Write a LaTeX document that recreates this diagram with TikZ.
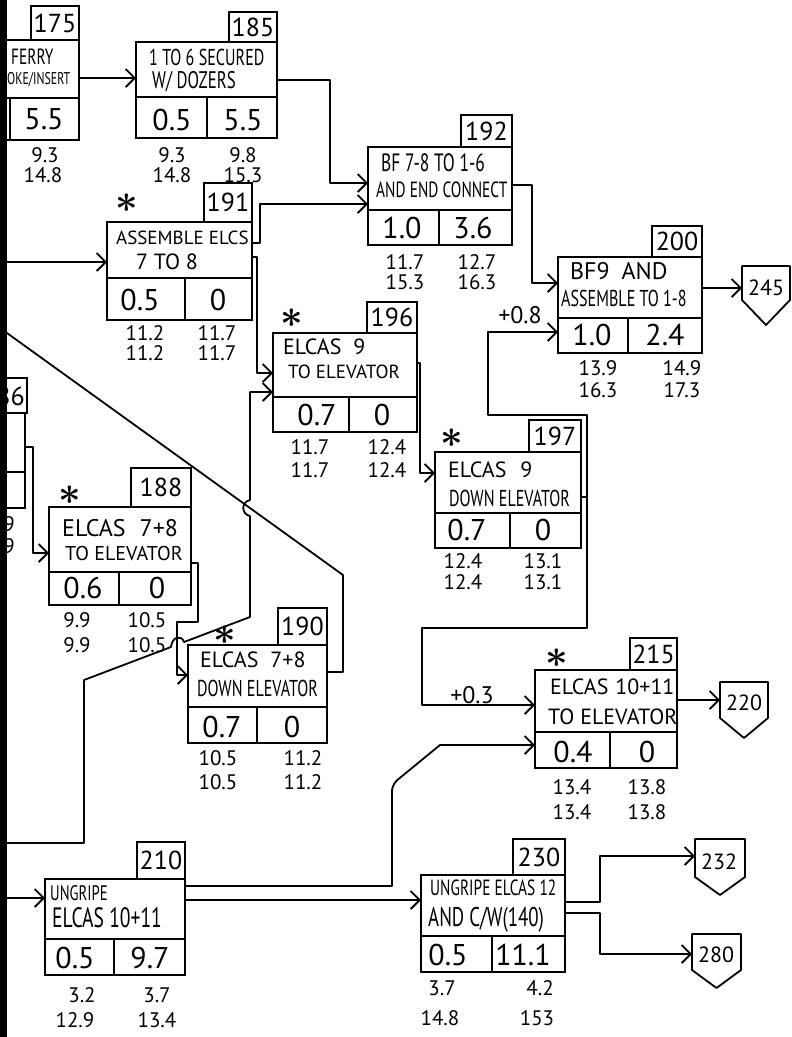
\documentclass[tikz,border=0pt]{standalone}
\usepackage{fontspec}
\usepackage{graphicx}
\setmainfont{PT Sans}
\newfontfamily\handt[FakeStretch=0.7]{PT Sans}
\newfontfamily\handn{PT Sans}
\usetikzlibrary{arrows.meta,fit,calc}
\tikzset{
 ln/.style={line width=1.8pt, line join=round, line cap=round},
 arr/.style={ln, -{Straight Barb[length=9pt,width=18pt,line width=1.8pt]}},
 boxm/.style={draw, line width=1.8pt, inner sep=0pt, outer sep=0pt},
 pent/.style={inner sep=0pt, outer sep=0pt},
 tagtxt/.style={inner sep=0pt, font=\handn\fontsize{26}{26}\selectfont},
 ptxt/.style={inner sep=0pt, font=\handn\fontsize{22}{22}\selectfont},
 tc/.style={anchor=west, inner sep=0pt, font=\handt\fontsize{#1}{#1}\selectfont},
 tn/.style={anchor=west, inner sep=0pt, font=\handn\fontsize{#1}{#1}\selectfont},
 val/.style={inner sep=0pt, font=\handn\fontsize{30}{30}\selectfont},
 tim/.style={inner sep=0pt, font=\handn\fontsize{21}{21}\selectfont},
 lag/.style={inner sep=0pt, font=\handn\fontsize{24}{24}\selectfont},
 starm/.style={inner sep=0pt, font=\fontsize{20}{20}\selectfont},
}
\newcommand\actbox[9]{%
  \node[boxm, fit={(#2,#3) (#4,#5)}] (#1) {};
  \draw[ln] (#1.west |- 0,#6) -- (#1.east |- 0,#6);
  \draw[ln] (#7,#6) -- (#7,#5);
  \node[boxm, fit={(#8,#9) (#4,#3)}] (#1t) {};
}
\newcommand\bigast{\scalebox{1.9}{$\boldsymbol{\ast}$}}
\usepackage{amsmath}
\begin{document}
\begin{tikzpicture}[x=1pt,y=-1pt]
\fill[white] (0,0) rectangle (792,1037);
\useasboundingbox (0,0) rectangle (792,1037);

% ---------- 175 (cut at left)
\actbox{b175}{-5}{40}{79}{140}{98}{10}{31}{6}
\node[tagtxt] (n175) at (b175t) {175};
\node[tc=22] (t175a) at (11,57) {FERRY};
\node[tc=17] (t175b) at (7,80) {OKE/INSERT};
\node[val] (v175b) at (44,119) {5.5};
\node[tim] (ef175) at (45,155) {9.3};
\node[tim] (lf175) at (43,175) {14.8};

% ---------- 185
\actbox{b185}{136}{42}{277}{138}{97}{207}{229}{12}
\node[tagtxt] (n185) at (b185t) {185};
\node[tc=23] (t185a) at (149,57) {1 TO 6 SECURED};
\node[tc=24] (t185b) at (152,82) {W/ DOZERS};
\node[val] (v185a) at (172,120) {0.5};
\node[val] (v185b) at (243,120) {5.5};
\node[tim] (es185) at (172,155) {9.3};
\node[tim] (ls185) at (172,175) {14.8};
\node[tim] (ef185) at (243,155) {9.8};
\node[tim] (lf185) at (243,175) {15.3};

% ---------- 192
\actbox{b192}{368}{147}{512}{245}{210}{439}{461}{115}
\node[tagtxt] (n192) at (b192t) {192};
\node[tc=25] (t192a) at (381,163) {BF 7-8 TO 1-6};
\node[tc=22] (t192b) at (376,190) {AND END CONNECT};
\node[val] (v192a) at (402,228) {1.0};
\node[val] (v192b) at (473,228) {3.6};
\node[tim] (es192) at (405,262) {11.7};
\node[tim] (ls192) at (405,282) {15.3};
\node[tim] (ef192) at (477,262) {12.7};
\node[tim] (lf192) at (477,282) {16.3};

% ---------- 191
\actbox{b191}{107}{222}{252}{320}{278}{185}{204}{183}
\node[starm] (s191) at (127,203) {\bigast};
\node[tagtxt] (n191) at (b191t) {191};
\node[tn=19] (t191a) at (116,238) {ASSEMBLE ELCS};
\node[tn=22, anchor=center] (t191b) at (167,262) {7 TO 8};
\node[val] (v191a) at (140,300) {0.5};
\node[val] (v191b) at (218,300) {0};
\node[tim] (es191) at (145,333) {11.2};
\node[tim] (ls191) at (145,353) {11.2};
\node[tim] (ef191) at (217,333) {11.7};
\node[tim] (lf191) at (217,353) {11.7};

% ---------- 200
\actbox{b200}{558}{257}{702}{353}{318}{628}{652}{226}
\node[tagtxt] (n200) at (b200t) {200};
\node[tn=24] (t200a) at (570,271) {BF9\hspace{12pt}AND};
\node[tc=23] (t200b) at (561,298) {ASSEMBLE TO 1-8};
\node[val] (v200a) at (592,335) {1.0};
\node[val] (v200b) at (665,335) {2.4};
\node[tim] (es200) at (598,368) {13.9};
\node[tim] (ls200) at (598,390) {16.3};
\node[tim] (ef200) at (682,368) {14.9};
\node[tim] (lf200) at (682,390) {17.3};

% ---------- 196
\actbox{b196}{273}{333}{417}{432}{397}{349}{367}{302}
\node[starm] (s196) at (292,318) {\bigast};
\node[tagtxt] (n196) at (b196t) {196};
\node[tn=22] (t196a) at (283,347) {ELCAS\hspace{12pt}9};
\node[tn=19] (t196b) at (288,372) {TO ELEVATOR};
\node[val] (v196a) at (317,415) {0.7};
\node[val] (v196b) at (382,415) {0};
\node[tim] (es196) at (310,447) {11.7};
\node[tim] (ls196) at (310,470) {11.7};
\node[tim] (ef196) at (387,447) {12.4};
\node[tim] (lf196) at (387,470) {12.4};

% ---------- 197
\actbox{b197}{435}{452}{581}{548}{513}{510}{529}{420}
\node[starm] (s197) at (452,438) {\bigast};
\node[tagtxt] (n197) at (b197t) {197};
\node[tn=22] (t197a) at (448,470) {ELCAS\hspace{14pt}9};
\node[tc=23] (t197b) at (449,498) {DOWN ELEVATOR};
\node[val] (v197a) at (467,530) {0.7};
\node[val] (v197b) at (543,530) {0};
\node[tim] (es197) at (463,561) {12.4};
\node[tim] (ls197) at (463,582) {12.4};
\node[tim] (ef197) at (543,561) {13.1};
\node[tim] (lf197) at (543,582) {13.1};

% ---------- 188
\actbox{b188}{49}{507}{191}{605}{572}{119}{131}{468}
\node[starm] (s188) at (70,495) {\bigast};
\node[tagtxt] (n188) at (b188t) {188};
\node[tn=24] (t188a) at (62,528) {ELCAS\hspace{14pt}7+8};
\node[tn=20] (t188b) at (65,553) {TO ELEVATOR};
\node[val] (v188a) at (83,588) {0.6};
\node[val] (v188b) at (157,588) {0};
\node[tim] (es188) at (77,620) {9.9};
\node[tim] (ls188) at (77,645) {9.9};
\node[tim] (ef188) at (147,620) {10.5};
\node[tim] (lf188) at (147,645) {10.5};

% ---------- 190
\actbox{b190}{188}{645}{327}{743}{707}{257}{278}{608}
\node[starm] (s190) at (225,635) {\bigast};
\node[tagtxt] (n190) at (b190t) {190};
\node[tn=22] (t190a) at (200,660) {ELCAS\hspace{12pt}7+8};
\node[tc=23] (t190b) at (197,688) {DOWN ELEVATOR};
\node[val] (v190a) at (222,727) {0.7};
\node[val] (v190b) at (292,727) {0};
\node[tim] (es190) at (218,758) {10.5};
\node[tim] (ls190) at (218,782) {10.5};
\node[tim] (ef190) at (303,758) {11.2};
\node[tim] (lf190) at (303,782) {11.2};

% ---------- 215
\actbox{b215}{535}{670}{677}{768}{732}{610}{630}{638}
\node[starm] (s215) at (557,658) {\bigast};
\node[tagtxt] (n215) at (b215t) {215};
\node[tn=22] (t215a) at (550,687) {ELCAS\hspace{7pt}10+11};
\node[tn=22] (t215b) at (548,717) {TO ELEVATOR};
\node[val] (v215a) at (573,752) {0.4};
\node[val] (v215b) at (647,752) {0};
\node[tim] (es215) at (572,787) {13.4};
\node[tim] (ls215) at (572,812) {13.4};
\node[tim] (ef215) at (647,787) {13.8};
\node[tim] (lf215) at (647,812) {13.8};

% ---------- 210
\actbox{b210}{45}{879}{185}{975}{939}{114}{137}{842}
\node[tagtxt] (n210) at (b210t) {210};
\node[tc=21] (t210a) at (50,893) {UNGRIPE};
\node[tc=28] (t210b) at (52,918) {ELCAS 10+11};
\node[val] (v210a) at (75,958) {0.5};
\node[val] (v210b) at (150,958) {9.7};
\node[tim] (es210) at (82,995) {3.2};
\node[tim] (ls210) at (75,1020) {12.9};
\node[tim] (ef210) at (157,995) {3.7};
\node[tim] (lf210) at (157,1020) {13.4};

% ---------- 230
\actbox{b230}{421}{875}{565}{972}{936}{492}{513}{839}
\node[tagtxt] (n230) at (b230t) {230};
\node[tc=22] (t230a) at (430,888) {UNGRIPE ELCAS 12};
\node[tc=27] (t230b) at (428,920) {AND C/W(140)};
\node[val] (v230a) at (448,955) {0.5};
\node[val] (v230b) at (523,955) {11.1};
\node[tim] (es230) at (442,988) {3.7};
\node[tim] (ls230) at (440,1018) {14.8};
\node[tim] (ef230) at (540,988) {4.2};
\node[tim] (lf230) at (537,1018) {153};

% ---------- 186 (cut at left)
\node[boxm, fit={(-5,413) (25,508)}] (b186) {};
\draw[ln] (b186.west |- 0,472) -- (b186.east |- 0,472);
\node[boxm, fit={(-5,378) (27,413)}] (b186t) {};
\node[tagtxt, anchor=east] (n186) at (25,396) {186};
\node[tim, anchor=east] (ef186) at (15,524) {9.9};
\node[tim, anchor=east] (lf186) at (15,546) {9.9};

% ---------- end events (pentagons)
\node[pent, fit={(742,266) (790,300)}] (p245) {};
\draw[ln] (p245.north west) -- (p245.north east) -- (p245.south east) -- ($(p245.south)+(0,25)$) -- (p245.south west) -- cycle;
\node[ptxt] (q245) at (766,288) {245};
\node[pent, fit={(720,682) (768,718)}] (p220) {};
\draw[ln] (p220.north west) -- (p220.north east) -- (p220.south east) -- ($(p220.south)+(0,20)$) -- (p220.south west) -- cycle;
\node[ptxt] (q220) at (744,703) {220};
\node[pent, fit={(695,839) (745,877)}] (p232) {};
\draw[ln] (p232.north west) -- (p232.north east) -- (p232.south east) -- ($(p232.south)+(0,18)$) -- (p232.south west) -- cycle;
\node[ptxt] (q232) at (719,862) {232};
\node[pent, fit={(692,934) (741,970)}] (p280) {};
\draw[ln] (p280.north west) -- (p280.north east) -- (p280.south east) -- ($(p280.south)+(0,18)$) -- (p280.south west) -- cycle;
\node[ptxt] (q280) at (716,955) {280};

% ---------- connectors
\coordinate (Lin191) at (0,262);
\coordinate (Lin196) at (0,843);
\coordinate (Lin210) at (0,898);
\coordinate (Lout190) at (0,328);
\coordinate (j197) at (587,497);

\draw[arr] (b175.east |- 0,78) -- (b185.west |- 0,78);
\draw[arr] (b185.east |- 0,80) -| (330,183) -- (b192.west |- 0,183);
\draw[arr] (Lin191) -- (b191.west |- Lin191);
\draw[arr] (b191.east |- 0,243) -| (260,204) -- (b192.west |- 0,204);
\draw[arr] (b191.east |- 0,257) -| (257,373) -- (b196.west |- 0,373);
\draw[arr] (Lin196) -- (84,843) -- (84,680) -- (171,647)
   .. controls (172,637) and (181,634) .. (184,642) -- (250,617) -- (250,516)
   .. controls (241,514) and (241,502) .. (250,500) -- (250,392) -- (b196.west |- 0,392);
\draw[arr] (b186.east |- 0,447) -| (33,553) -- (b188.west |- 0,553);
\draw[arr] (b188.east |- 0,563) -| (198,622) -| (177,675) -- (b190.west |- 0,675);
\draw[ln] (b190.east |- 0,672) -| (343,575) -- (Lout190);
\draw[arr] (b196.east |- 0,363) -| (420,473) -- (b197.west |- 0,473);
\draw[arr] (b192.east |- 0,185) -| (532,283) -- (b200.west |- 0,283);
\draw[arr] (b200.east |- 0,288) -- (p245.west |- 0,288);
\draw[ln] (b197.east |- j197) -- (j197);
\draw[arr] (j197) |- (488,415) -- (488,332) -- (b200.west |- 0,332);
\draw[arr] (j197) |- (422,628) -- (422,705) -- (b215.west |- 0,705);
\draw[arr] (b215.east |- 0,700) -- (p220.west |- 0,700);
\draw[arr] (b210.east |- 0,886) -- (392,886) -- (392,792)
   .. controls (392,784) and (396,781) .. (401,777) -- (440,745) -- (b215.west |- 0,745);
\draw[arr] (Lin210) -- (b210.west |- Lin210);
\draw[arr] (b210.east |- 0,900) -- (b230.west |- 0,900);
\draw[arr] (b230.east |- 0,902) -| (600,856) -- (p232.west |- 0,856);
\draw[arr] (b230.east |- 0,913) -| (600,954) -- (p280.west |- 0,954);

\node[lag] (lag08) at (520,315) {+0.8};
\node[lag] (lag03) at (472,695) {+0.3};

% ---------- left border bar
\fill[black] (0,0) rectangle (7,1037);
\end{tikzpicture}
\end{document}
